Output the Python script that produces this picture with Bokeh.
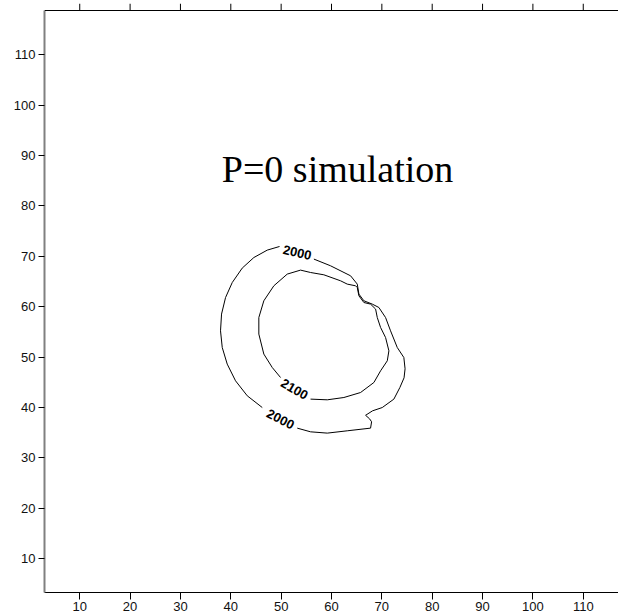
from bokeh.plotting import figure
from bokeh.models import Range1d, FixedTicker, LinearAxis, Label, Span
from bokeh.core.properties import value
from bokeh.embed import file_html
from bokeh.resources import INLINE

# ---- data ----
tick_values = [10, 20, 30, 40, 50, 60, 70, 80, 90, 100, 110]
x_start, x_end = 3.0, 117.0
y_start, y_top = 3.26, 118.8      # data frame (top border line at y_top)
y_end = 120.19                    # room above the top border for its outward ticks

# contour 2000, right/bottom part (between the two labels)
c2000a_x = [56.50, 59.81, 63.79, 65.12, 65.44, 66.43, 68.10, 69.41, 70.74, 71.73, 73.06,
            74.37, 74.61, 74.41, 73.58, 72.39, 70.08, 68.16, 66.77, 67.56, 67.96, 67.76,
            63.13, 59.16, 55.84, 53.20]
c2000a_y = [69.45, 68.12, 66.13, 64.48, 62.50, 61.17, 60.51, 59.84, 57.85, 55.21, 51.90,
            49.91, 47.67, 45.88, 43.96, 41.65, 39.98, 39.33, 38.44, 37.74, 37.15, 35.89,
            35.36, 34.90, 35.16, 35.89]
# contour 2000, left part
c2000b_x = [46.25, 43.27, 40.94, 39.29, 38.30, 37.96, 38.16, 38.96, 40.29, 42.27, 44.58,
            47.24, 49.68]
c2000b_y = [39.98, 42.31, 45.29, 48.60, 51.90, 55.21, 58.53, 61.82, 64.80, 67.66, 69.76,
            71.23, 71.95]
# contour 2100
c2100_x = [55.84, 59.16, 62.46, 65.77, 68.42, 69.75, 71.08, 71.40, 70.74, 69.75, 69.09,
           68.76, 67.76, 66.43, 65.44, 65.12, 64.78, 63.13, 61.80, 58.48, 55.84, 53.85,
           51.21, 48.55, 46.56, 45.57, 45.57, 46.56, 48.23, 49.88]
c2100_y = [41.65, 41.51, 41.97, 42.96, 44.95, 47.27, 49.26, 51.24, 53.88, 55.87, 57.85,
           59.52, 60.51, 60.83, 62.16, 63.81, 64.15, 64.48, 65.14, 66.33, 66.79, 67.26,
           66.47, 64.15, 61.17, 57.85, 54.56, 50.59, 47.93, 45.94]

# contour labels
lab_text = ["2000", "2000", "2100"]
lab_x = [53.20, 49.88, 52.66]
lab_y = [70.76, 37.68, 43.64]
lab_angle = [-0.22, -0.47, -0.52]

title_text = "P=0 simulation"
title_x = 61.2
title_y = 87.4

# ---- figure ----
p = figure(width=618, height=616, output_backend="svg", toolbar_location=None,
           x_range=Range1d(x_start, x_end), y_range=Range1d(y_start, y_end),
           min_border_left=44, min_border_right=0, min_border_top=3, min_border_bottom=24,
           x_axis_location=None, y_axis_location=None)
p.grid.visible = False
p.outline_line_color = None
p.background_fill_color = "white"
p.border_fill_color = "white"

def style_axis(ax, tick_out, standoff, line_color="black", line_width=1):
    ax.ticker = FixedTicker(ticks=tick_values)
    ax.major_tick_out = tick_out
    ax.major_tick_in = 0
    ax.minor_tick_line_color = None
    ax.axis_line_color = line_color
    ax.axis_line_width = line_width
    ax.major_tick_line_color = "black"
    ax.major_label_standoff = standoff
    ax.major_label_text_font = "Liberation Sans"
    ax.major_label_text_font_size = "13px"
    ax.major_label_text_color = "#111111"

left = LinearAxis(bounds=(y_start, y_top))
style_axis(left, 6, 3, line_color="#808080", line_width=2)
p.add_layout(left, "left")

bottom = LinearAxis()
style_axis(bottom, 7, 2)
p.add_layout(bottom, "below")

# top border with outward ticks
p.add_layout(Span(location=y_top, dimension="width", line_color="black", line_width=1))
p.segment(x0=tick_values, y0=[y_top] * len(tick_values),
          x1=tick_values, y1=[y_end] * len(tick_values),
          line_color="black", line_width=1)

# contours
p.line(c2000a_x, c2000a_y, line_color="black", line_width=1)
p.line(c2000b_x, c2000b_y, line_color="black", line_width=1)
p.line(c2100_x, c2100_y, line_color="black", line_width=1)

p.text(x=lab_x, y=lab_y, text=lab_text, angle=lab_angle,
       text_font=value("Liberation Sans"), text_font_style="bold",
       text_font_size="13px", text_align="center", text_baseline="middle",
       text_color="black")

p.add_layout(Label(x=title_x, y=title_y, text=title_text, text_font="Liberation Serif",
                   text_font_size="38px", text_align="center", text_baseline="alphabetic",
                   text_color="black"))

open("out.html", "w").write(file_html(p, INLINE))
